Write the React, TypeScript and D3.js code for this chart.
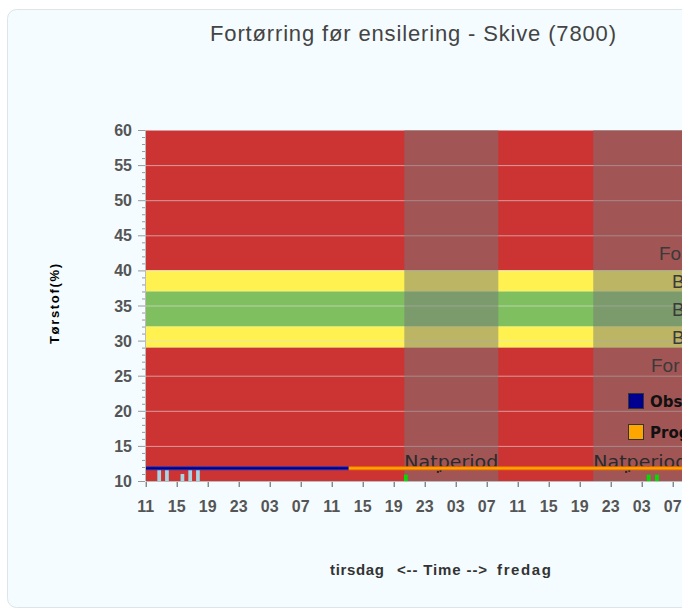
import React from "react";
import * as d3 from "d3";

// ---- data ----
const bandLows = [40, 37, 32, 29, 10];
const bandHighs = [60, 40, 37, 32, 29];
const bandColors = ["#CC3333", "#FFF250", "#80BF60", "#FFF250", "#CC3333"];

const bandLabels = ["For tør", "Begrænset", "Bedst", "Begrænset", "For våd"];
const bandLabelValues = [42.5, 38.5, 34.5, 30.5, 26.5];

const nightStarts = [33.37, 57.75];
const nightEnds = [45.5, 75];
const nightLabel = "Natperiod";

const obsTimes = [0, 26.2];
const obsValues = [11.8, 11.8];
const progTimes = [26.2, 75];
const progValues = [11.8, 11.8];

const obsRainTimes = [1.5, 2.5, 4.5, 5.5, 6.5];
const obsRainValues = [12, 12, 11, 12, 12];
const progRainTimes = [33.33, 64.65, 65.72];
const progRainValues = [10.9, 10.9, 10.9];

const markerTimes = [37.7, 62];
const markerValues = [11.3, 11.3];

const tickHours = [0, 4, 8, 12, 16, 20, 24, 28, 32, 36, 40, 44, 48, 52, 56, 60, 64, 68];
const tickLabels = ["11", "15", "19", "23", "03", "07", "11", "15", "19", "23", "03", "07", "11", "15", "19", "23", "03", "07"];
const yTicks = [10, 15, 20, 25, 30, 35, 40, 45, 50, 55, 60];

const legendLabels = ["Observeret", "Prognose"];
const legendColors = ["#000090", "#FFA500"];

const title = "Fortørring før ensilering - Skive (7800)";
const yTitle = "Tørstof(%)";

export default function App() {
  const W = 682, H = 610;
  const left = 145.7, top = 130, bottom = 481;
  const x = d3.scaleLinear().domain([0, 1]).range([left, left + 7.75]);
  const y = d3.scaleLinear().domain([10, 60]).range([bottom, top]);
  const right = W + 20;
  const minor = d3.range(10, 61, 1);
  const mk = (ts: number[], vs: number[]) =>
    d3.line<number>().x((t) => x(t)).y((_, i) => y(vs[i]))(ts) || "";
  const font = "'Liberation Sans', Arial, sans-serif";
  return (
    <svg width={W} height={H} style={{ position: "absolute", left: 0, top: 0 }} fontFamily={font}>
      <defs>
        <clipPath id="plot">
          <rect x={left} y={top} width={right - left} height={bottom - top} />
        </clipPath>
      </defs>
      <rect x={0} y={0} width={W} height={H} fill="#ffffff" />
      <rect x={7.5} y={9.5} width={720} height={598} rx={9} fill="#F4FCFF" stroke="#DCE5E8" />
      <text x={413} y={41} textAnchor="middle" fontSize={22} fill="#444" textLength={406} lengthAdjust="spacing">
        {title}
      </text>

      <g clipPath="url(#plot)">
        {bandLows.map((lo, i) => (
          <rect key={i} x={left} y={y(bandHighs[i])} width={right - left} height={y(lo) - y(bandHighs[i])} fill={bandColors[i]} />
        ))}
        {yTicks.map((v) => (
          <line key={v} x1={left} x2={right} y1={y(v) + 0.5} y2={y(v) + 0.5} stroke="rgba(225,225,225,0.6)" strokeWidth={1} />
        ))}
        {nightStarts.map((s, i) => (
          <rect key={i} x={x(s)} y={top} width={x(nightEnds[i]) - x(s)} height={bottom - top} fill="rgba(120,120,120,0.5)" />
        ))}
        {nightStarts.map((s, i) => (
          <text key={"n" + i} x={x(s)} y={468} fontSize={17} fill="#2a2a2a" fontFamily="'DejaVu Sans', sans-serif" textLength={94} lengthAdjust="spacingAndGlyphs">
            {nightLabel}
          </text>
        ))}
        {markerTimes.map((t, i) => (
          <rect key={"m" + i} x={x(t) - 1} y={y(markerValues[i]) - 1} width={2} height={2} fill="#222" />
        ))}
        {obsRainTimes.map((t, i) => (
          <rect key={"o" + i} x={x(t)} y={y(obsRainValues[i])} width={x(t + 0.48) - x(t)} height={bottom - y(obsRainValues[i])} fill="#A8D4E6" />
        ))}
        {progRainTimes.map((t, i) => (
          <rect key={"p" + i} x={x(t)} y={y(progRainValues[i])} width={x(t + 0.48) - x(t)} height={bottom - y(progRainValues[i])} fill="#00E000" />
        ))}
        <path d={mk(obsTimes, obsValues)} stroke="#3030B0" strokeWidth={4} fill="none" />
        <path d={mk(obsTimes, obsValues)} stroke="#000080" strokeWidth={2} fill="none" />
        <path d={mk(progTimes, progValues)} stroke="#F07000" strokeWidth={4} fill="none" />
        <path d={mk(progTimes, progValues)} stroke="#FFA500" strokeWidth={2} fill="none" />
        {bandLabels.map((l, i) => (
          <text key={"b" + i} x={i === 0 ? 659 : i === 4 ? 651 : 672} y={y(bandLabelValues[i]) + 7} fontSize={19} fill="#3a3a3a">
            {l}
          </text>
        ))}
        {legendLabels.map((l, i) => (
          <g key={"l" + i}>
            <rect x={628.5} y={393.5 + i * 31} width={15} height={15} fill={legendColors[i]} stroke="#333" strokeWidth={1} />
            <text x={650} y={407 + i * 31} fontSize={15} fontWeight="bold" fill="#111" fontFamily="'DejaVu Sans', sans-serif">
              {l}
            </text>
          </g>
        ))}
      </g>

      {/* y axis */}
      {minor.map((v) => (
        <line key={v} x1={v % 5 === 0 ? 138 : 142} x2={145} y1={y(v) + 0.5} y2={y(v) + 0.5} stroke="#999" strokeWidth={1} />
      ))}
      <line x1={145.5} x2={145.5} y1={top} y2={bottom} stroke="#bbb" strokeWidth={1} />
      {yTicks.map((v) => (
        <text key={v} x={132} y={y(v) + 6} textAnchor="end" fontSize={16} fontWeight="bold" fill="#555">
          {v}
        </text>
      ))}
      <text transform={`translate(59,304) rotate(-90)`} textAnchor="middle" fontSize={13} fontWeight="bold" fill="#000" textLength={80} lengthAdjust="spacing">
        {yTitle}
      </text>

      {/* x axis */}
      <line x1={left} x2={W} y1={bottom + 0.5} y2={bottom + 0.5} stroke="#bbb" strokeWidth={1} />
      {tickHours.map((h, i) => (
        <g key={i}>
          <line x1={x(h) + 0.5} x2={x(h) + 0.5} y1={482} y2={487} stroke="#555" strokeWidth={1} />
          <text x={x(h)} y={512} textAnchor="middle" fontSize={16} fontWeight="bold" fill="#555">
            {tickLabels[i]}
          </text>
        </g>
      ))}
      <text x={330} y={575} fontSize={15} fontWeight="bold" fill="#333" textLength={54} lengthAdjust="spacing">tirsdag</text>
      <text x={397} y={575} fontSize={15} fontWeight="bold" fill="#333" textLength={90} lengthAdjust="spacing">{"<-- Time -->"}</text>
      <text x={497} y={575} fontSize={15} fontWeight="bold" fill="#333" textLength={54} lengthAdjust="spacing">fredag</text>
    </svg>
  );
}
